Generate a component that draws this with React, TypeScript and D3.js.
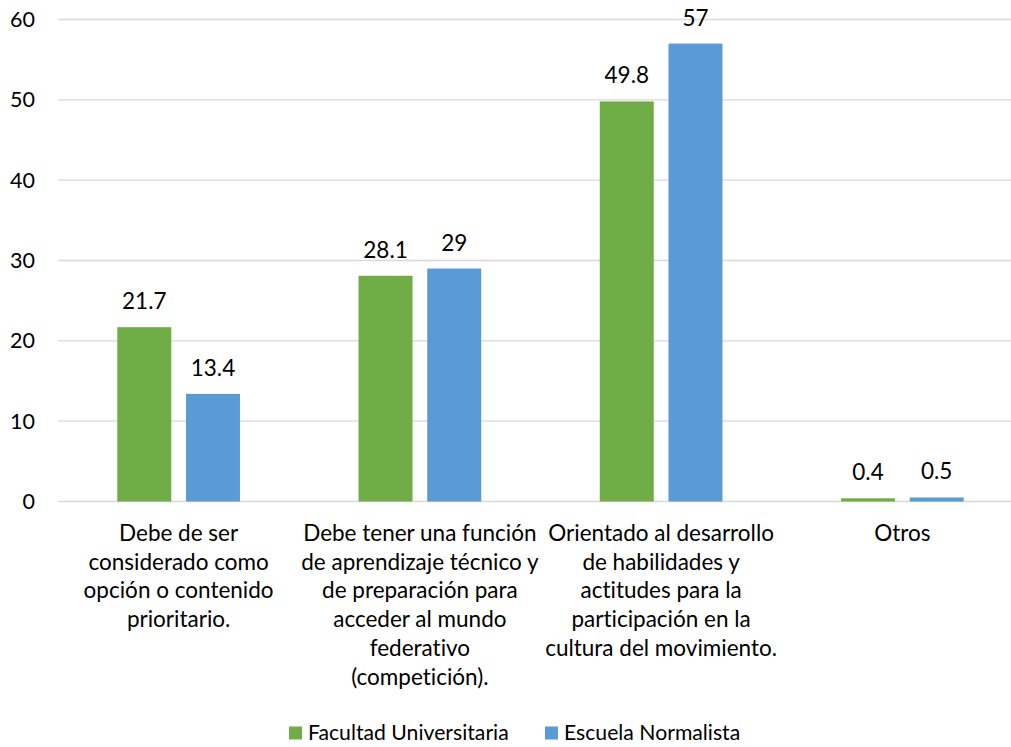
import React from "react";
import * as d3 from "d3";

const categories: string[][] = [
  ["Debe de ser", "considerado como", "opción o contenido", "prioritario."],
  ["Debe tener una función", "de aprendizaje técnico y", "de preparación para", "acceder al mundo", "federativo", "(competición)."],
  ["Orientado al desarrollo", "de habilidades y", "actitudes para la", "participación en la", "cultura del movimiento."],
  ["Otros"],
];
const facultad = [21.7, 28.1, 49.8, 0.4];
const escuela = [13.4, 29, 57, 0.5];
const yTicks = [0, 10, 20, 30, 40, 50, 60];
const seriesNames = ["Facultad Universitaria", "Escuela Normalista"];
const colors = ["#70AD47", "#5B9BD5"];

export default function App() {
  const W = 1011, H = 747;
  const left = 58, right = 1023, top = 19.5, bottom = 501.5;
  const font = "Lato, 'Open Sans', sans-serif";
  const x = d3.scaleBand<number>().domain(d3.range(categories.length)).range([left, right]).paddingInner(0).paddingOuter(0);
  const y = d3.scaleLinear().domain([0, 60]).range([bottom, top]);
  const bw = 54, gap = 14.7;
  const series = [facultad, escuela];
  return (
    <svg width={W} height={H} style={{ position: "absolute", left: 0, top: 0, background: "#fff", fontVariantLigatures: "none" }} fontFamily={font}>
      {yTicks.map((t) => (
        <g key={t}>
          <line x1={left} x2={W} y1={y(t)} y2={y(t)} stroke="#D9D9D9" strokeWidth={1.3} />
          <text x={35} y={y(t)} dy="0.35em" textAnchor="end" fontSize={21.5} fill="#000">{t}</text>
        </g>
      ))}
      {series.map((vals, si) =>
        vals.map((v, i) => {
          const c = x(i)! + x.bandwidth() / 2;
          const bx = si === 0 ? c - gap / 2 - bw : c + gap / 2;
          return (
            <g key={`${si}-${i}`}>
              <rect x={bx} y={y(v)} width={bw} height={bottom - y(v)} fill={colors[si]} />
              <text x={bx + bw / 2} y={y(v) - 18} textAnchor="middle" fontSize={22.5} fill="#000">{v}</text>
            </g>
          );
        })
      )}
      {categories.map((lines, i) => (
        <text key={i} x={x(i)! + x.bandwidth() / 2} y={541} textAnchor="middle" fontSize={22.5} fill="#000">
          {lines.map((l, j) => (
            <tspan key={j} x={x(i)! + x.bandwidth() / 2} dy={j === 0 ? 0 : 28.7}>{l}</tspan>
          ))}
        </text>
      ))}
      {seriesNames.map((n, si) => {
        const lx = si === 0 ? 289 : 545;
        return (
          <g key={n}>
            <rect x={lx} y={726.5} width={13} height={13} fill={colors[si]} />
            <text x={lx + 19} y={733} dy="0.35em" fontSize={21.2} fill="#000">{n}</text>
          </g>
        );
      })}
    </svg>
  );
}
